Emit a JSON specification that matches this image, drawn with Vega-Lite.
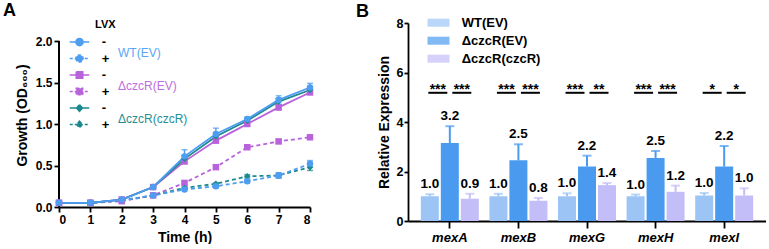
{
  "$schema": "https://vega.github.io/schema/vega-lite/v6.json",
  "padding": {"left": 3, "top": 1, "right": 0, "bottom": 0},
  "spacing": 42,
  "config": {
    "font": "Liberation Sans",
    "view": {"stroke": null},
    "axis": {"domainColor": "black", "tickColor": "black", "labelColor": "black", "titleColor": "black", "domainWidth": 1.8, "tickWidth": 1.8, "labelFontWeight": "bold", "titleFontWeight": "bold", "grid": false, "labelFont": "Liberation Sans", "titleFont": "Liberation Sans"},
    "legend": {"labelFont": "Liberation Sans", "titleFont": "Liberation Sans"},
    "title": {"fontSize": 18, "fontWeight": "bold", "anchor": "start", "frame": "group", "color": "black", "font": "Liberation Sans"}
  },
  "resolve": {"scale": {"color": "independent", "shape": "independent", "strokeDash": "independent", "xOffset": "independent"}, "legend": {"color": "independent", "shape": "independent"}},
  "hconcat": [
    {
      "width": 251,
      "height": 184,
      "title": {"text": "A", "dx": -56, "offset": -1},
      "data": {"values": [
        {"t": 0, "series": "ΔczcR(EV) +", "strain": "ΔczcR(EV)", "lvx": "+", "v": 0.05, "e": 0.01},
        {"t": 1, "series": "ΔczcR(EV) +", "strain": "ΔczcR(EV)", "lvx": "+", "v": 0.05, "e": 0.01},
        {"t": 2, "series": "ΔczcR(EV) +", "strain": "ΔczcR(EV)", "lvx": "+", "v": 0.07, "e": 0.01},
        {"t": 3, "series": "ΔczcR(EV) +", "strain": "ΔczcR(EV)", "lvx": "+", "v": 0.14, "e": 0.01},
        {"t": 4, "series": "ΔczcR(EV) +", "strain": "ΔczcR(EV)", "lvx": "+", "v": 0.29, "e": 0.02},
        {"t": 5, "series": "ΔczcR(EV) +", "strain": "ΔczcR(EV)", "lvx": "+", "v": 0.48, "e": 0.02},
        {"t": 6, "series": "ΔczcR(EV) +", "strain": "ΔczcR(EV)", "lvx": "+", "v": 0.72, "e": 0.02},
        {"t": 7, "series": "ΔczcR(EV) +", "strain": "ΔczcR(EV)", "lvx": "+", "v": 0.79, "e": 0.02},
        {"t": 8, "series": "ΔczcR(EV) +", "strain": "ΔczcR(EV)", "lvx": "+", "v": 0.84, "e": 0.02},
        {"t": 0, "series": "ΔczcR(czcR) +", "strain": "ΔczcR(czcR)", "lvx": "+", "v": 0.05, "e": 0.01},
        {"t": 1, "series": "ΔczcR(czcR) +", "strain": "ΔczcR(czcR)", "lvx": "+", "v": 0.05, "e": 0.01},
        {"t": 2, "series": "ΔczcR(czcR) +", "strain": "ΔczcR(czcR)", "lvx": "+", "v": 0.08, "e": 0.01},
        {"t": 3, "series": "ΔczcR(czcR) +", "strain": "ΔczcR(czcR)", "lvx": "+", "v": 0.14, "e": 0.01},
        {"t": 4, "series": "ΔczcR(czcR) +", "strain": "ΔczcR(czcR)", "lvx": "+", "v": 0.23, "e": 0.01},
        {"t": 5, "series": "ΔczcR(czcR) +", "strain": "ΔczcR(czcR)", "lvx": "+", "v": 0.28, "e": 0.01},
        {"t": 6, "series": "ΔczcR(czcR) +", "strain": "ΔczcR(czcR)", "lvx": "+", "v": 0.37, "e": 0.02},
        {"t": 7, "series": "ΔczcR(czcR) +", "strain": "ΔczcR(czcR)", "lvx": "+", "v": 0.38, "e": 0.03},
        {"t": 8, "series": "ΔczcR(czcR) +", "strain": "ΔczcR(czcR)", "lvx": "+", "v": 0.48, "e": 0.04},
        {"t": 0, "series": "WT(EV) +", "strain": "WT(EV)", "lvx": "+", "v": 0.05, "e": 0.01},
        {"t": 1, "series": "WT(EV) +", "strain": "WT(EV)", "lvx": "+", "v": 0.05, "e": 0.01},
        {"t": 2, "series": "WT(EV) +", "strain": "WT(EV)", "lvx": "+", "v": 0.08, "e": 0.01},
        {"t": 3, "series": "WT(EV) +", "strain": "WT(EV)", "lvx": "+", "v": 0.14, "e": 0.01},
        {"t": 4, "series": "WT(EV) +", "strain": "WT(EV)", "lvx": "+", "v": 0.21, "e": 0.01},
        {"t": 5, "series": "WT(EV) +", "strain": "WT(EV)", "lvx": "+", "v": 0.25, "e": 0.02},
        {"t": 6, "series": "WT(EV) +", "strain": "WT(EV)", "lvx": "+", "v": 0.31, "e": 0.02},
        {"t": 7, "series": "WT(EV) +", "strain": "WT(EV)", "lvx": "+", "v": 0.38, "e": 0.03},
        {"t": 8, "series": "WT(EV) +", "strain": "WT(EV)", "lvx": "+", "v": 0.52, "e": 0.04},
        {"t": 0, "series": "ΔczcR(EV) -", "strain": "ΔczcR(EV)", "lvx": "-", "v": 0.05, "e": 0.01},
        {"t": 1, "series": "ΔczcR(EV) -", "strain": "ΔczcR(EV)", "lvx": "-", "v": 0.05, "e": 0.01},
        {"t": 2, "series": "ΔczcR(EV) -", "strain": "ΔczcR(EV)", "lvx": "-", "v": 0.09, "e": 0.01},
        {"t": 3, "series": "ΔczcR(EV) -", "strain": "ΔczcR(EV)", "lvx": "-", "v": 0.24, "e": 0.01},
        {"t": 4, "series": "ΔczcR(EV) -", "strain": "ΔczcR(EV)", "lvx": "-", "v": 0.55, "e": 0.03},
        {"t": 5, "series": "ΔczcR(EV) -", "strain": "ΔczcR(EV)", "lvx": "-", "v": 0.80, "e": 0.03},
        {"t": 6, "series": "ΔczcR(EV) -", "strain": "ΔczcR(EV)", "lvx": "-", "v": 1.00, "e": 0.02},
        {"t": 7, "series": "ΔczcR(EV) -", "strain": "ΔczcR(EV)", "lvx": "-", "v": 1.20, "e": 0.03},
        {"t": 8, "series": "ΔczcR(EV) -", "strain": "ΔczcR(EV)", "lvx": "-", "v": 1.38, "e": 0.02},
        {"t": 0, "series": "ΔczcR(czcR) -", "strain": "ΔczcR(czcR)", "lvx": "-", "v": 0.05, "e": 0.01},
        {"t": 1, "series": "ΔczcR(czcR) -", "strain": "ΔczcR(czcR)", "lvx": "-", "v": 0.05, "e": 0.01},
        {"t": 2, "series": "ΔczcR(czcR) -", "strain": "ΔczcR(czcR)", "lvx": "-", "v": 0.09, "e": 0.01},
        {"t": 3, "series": "ΔczcR(czcR) -", "strain": "ΔczcR(czcR)", "lvx": "-", "v": 0.24, "e": 0.01},
        {"t": 4, "series": "ΔczcR(czcR) -", "strain": "ΔczcR(czcR)", "lvx": "-", "v": 0.58, "e": 0.04},
        {"t": 5, "series": "ΔczcR(czcR) -", "strain": "ΔczcR(czcR)", "lvx": "-", "v": 0.85, "e": 0.04},
        {"t": 6, "series": "ΔczcR(czcR) -", "strain": "ΔczcR(czcR)", "lvx": "-", "v": 1.04, "e": 0.02},
        {"t": 7, "series": "ΔczcR(czcR) -", "strain": "ΔczcR(czcR)", "lvx": "-", "v": 1.27, "e": 0.04},
        {"t": 8, "series": "ΔczcR(czcR) -", "strain": "ΔczcR(czcR)", "lvx": "-", "v": 1.41, "e": 0.03},
        {"t": 0, "series": "WT(EV) -", "strain": "WT(EV)", "lvx": "-", "v": 0.05, "e": 0.01},
        {"t": 1, "series": "WT(EV) -", "strain": "WT(EV)", "lvx": "-", "v": 0.05, "e": 0.01},
        {"t": 2, "series": "WT(EV) -", "strain": "WT(EV)", "lvx": "-", "v": 0.09, "e": 0.01},
        {"t": 3, "series": "WT(EV) -", "strain": "WT(EV)", "lvx": "-", "v": 0.24, "e": 0.02},
        {"t": 4, "series": "WT(EV) -", "strain": "WT(EV)", "lvx": "-", "v": 0.61, "e": 0.08},
        {"t": 5, "series": "WT(EV) -", "strain": "WT(EV)", "lvx": "-", "v": 0.88, "e": 0.07},
        {"t": 6, "series": "WT(EV) -", "strain": "WT(EV)", "lvx": "-", "v": 1.06, "e": 0.02},
        {"t": 7, "series": "WT(EV) -", "strain": "WT(EV)", "lvx": "-", "v": 1.29, "e": 0.05},
        {"t": 8, "series": "WT(EV) -", "strain": "WT(EV)", "lvx": "-", "v": 1.44, "e": 0.05}
      ]},
      "encoding": {
        "x": {"field": "t", "type": "quantitative", "scale": {"domain": [0, 8], "nice": false},
          "axis": {"values": [0, 1, 2, 3, 4, 5, 6, 7, 8], "format": "d", "title": "Time (h)", "labelFontSize": 12, "titleFontSize": 14, "tickSize": 5, "labelPadding": 2, "titlePadding": 5}},
        "y": {"field": "v", "type": "quantitative", "scale": {"domain": [0, 2.2169], "nice": false, "zero": true},
          "axis": {"values": [0, 0.5, 1, 1.5, 2], "format": ".1f", "domain": false, "title": "Growth (OD₆₀₀)", "labelFontSize": 12, "titleFontSize": 14, "tickSize": 5, "labelPadding": 2, "titlePadding": 6}},
        "color": {"field": "series", "type": "nominal",
          "scale": {"domain": ["WT(EV) -", "WT(EV) +", "ΔczcR(EV) -", "ΔczcR(EV) +", "ΔczcR(czcR) -", "ΔczcR(czcR) +"],
                    "range": ["#4d9df0", "#4d9df0", "#b862dc", "#b862dc", "#1b898d", "#1b898d"]},
          "legend": {
            "title": "LVX", "orient": "none", "legendX": 13, "legendY": -4.5, "padding": 0,
            "labelExpr": "slice(datum.label, -1)",
            "symbolSize": 169, "symbolStrokeWidth": 1.6, "labelOffset": 14.75, "rowPadding": 1.5,
            "titleFontSize": 11, "titleFontWeight": "bold", "titlePadding": 5, "titleColor": "black", "labelColor": "black", "labelFontSize": 13, "labelFontWeight": "bold",
            "encode": {
              "title": {"update": {"dx": {"value": 23}}},
              "symbols": {"update": {
                "shape": {"signal": "indexof(datum.value,'WT')==0 ? 'M-1.5,0H1.5M-0.55,0A0.55,0.55 0 1,0 0.55,0A0.55,0.55 0 1,0 -0.55,0Z' : indexof(datum.value,'(EV)')>=0 ? 'M-1.5,0H1.5M-0.5,-0.5H0.5V0.5H-0.5Z' : 'M-1.5,0H1.5M0,-0.5L0.45,0L0,0.5L-0.45,0Z'"},
                "strokeDash": {"signal": "indexof(datum.value,'+')>=0 ? [3,2] : [100,0]"},
                "fill": {"signal": "indexof(datum.value,'WT')==0 ? '#4d9df0' : indexof(datum.value,'(EV)')>=0 ? '#b862dc' : '#1b898d'"},
                "stroke": {"signal": "indexof(datum.value,'WT')==0 ? '#4d9df0' : indexof(datum.value,'(EV)')>=0 ? '#b862dc' : '#1b898d'"},
                "opacity": {"value": 1},
                "fillOpacity": {"value": 1}
              }}
            }
          }
        }
      },
      "layer": [
        {
          "mark": {"type": "rule", "strokeWidth": 1.8},
          "encoding": {"x": {"datum": 0, "type": "quantitative"}, "y": {"datum": 0, "type": "quantitative"}, "y2": {"datum": 2}, "color": {"value": "black"}}
        },
        {
          "mark": {"type": "errorbar", "ticks": {"size": 6, "thickness": 1.5}, "thickness": 1.5},
          "encoding": {"yError": {"field": "e"}}
        },
        {
          "mark": {"type": "line", "strokeWidth": 1.8},
          "encoding": {
            "strokeDash": {"field": "lvx", "type": "nominal", "scale": {"domain": ["-", "+"], "range": [[100, 0], [4, 3]]}, "legend": null}
          }
        },
        {
          "mark": {"type": "point", "filled": true, "opacity": 1, "size": 42},
          "encoding": {
            "shape": {"field": "strain", "type": "nominal",
              "scale": {"domain": ["WT(EV)", "ΔczcR(EV)", "ΔczcR(czcR)"], "range": ["circle", "square", "diamond"]},
              "legend": {
                "title": null, "orient": "none", "legendX": 47, "legendY": 23.6, "padding": 0,
                "symbolSize": 0, "symbolOpacity": 0, "symbolStrokeWidth": 0, "labelOffset": 0, "rowPadding": 21,
                "labelFontSize": 12, "labelFontWeight": "normal",
                "labelColor": {"expr": "indexof(datum.value,'WT')==0 ? '#5aa6f5' : indexof(datum.value,'(EV)')>=0 ? '#c06ee0' : '#1f8f95'"}
              }
            }
          }
        }
      ]
    },
    {
      "width": 358,
      "height": 198,
      "title": {"text": "B", "dx": -52, "offset": -5},
      "data": {"values": [
        {"kind": "bar", "gene": "mexA", "strain": "WT(EV)", "v": 1.0, "hi": 1.08, "label": "1.0"},
        {"kind": "bar", "gene": "mexA", "strain": "ΔczcR(EV)", "v": 3.15, "hi": 3.83, "label": "3.2"},
        {"kind": "bar", "gene": "mexA", "strain": "ΔczcR(czcR)", "v": 0.9, "hi": 1.1, "label": "0.9"},
        {"kind": "bar", "gene": "mexB", "strain": "WT(EV)", "v": 1.0, "hi": 1.1, "label": "1.0"},
        {"kind": "bar", "gene": "mexB", "strain": "ΔczcR(EV)", "v": 2.45, "hi": 3.1, "label": "2.5"},
        {"kind": "bar", "gene": "mexB", "strain": "ΔczcR(czcR)", "v": 0.82, "hi": 0.93, "label": "0.8"},
        {"kind": "bar", "gene": "mexG", "strain": "WT(EV)", "v": 1.0, "hi": 1.12, "label": "1.0"},
        {"kind": "bar", "gene": "mexG", "strain": "ΔczcR(EV)", "v": 2.2, "hi": 2.64, "label": "2.2"},
        {"kind": "bar", "gene": "mexG", "strain": "ΔczcR(czcR)", "v": 1.45, "hi": 1.53, "label": "1.4"},
        {"kind": "bar", "gene": "mexH", "strain": "WT(EV)", "v": 1.0, "hi": 1.07, "label": "1.0"},
        {"kind": "bar", "gene": "mexH", "strain": "ΔczcR(EV)", "v": 2.55, "hi": 2.83, "label": "2.5"},
        {"kind": "bar", "gene": "mexH", "strain": "ΔczcR(czcR)", "v": 1.18, "hi": 1.43, "label": "1.2"},
        {"kind": "bar", "gene": "mexI", "strain": "WT(EV)", "v": 1.03, "hi": 1.13, "label": "1.0"},
        {"kind": "bar", "gene": "mexI", "strain": "ΔczcR(EV)", "v": 2.2, "hi": 3.03, "label": "2.2"},
        {"kind": "bar", "gene": "mexI", "strain": "ΔczcR(czcR)", "v": 1.03, "hi": 1.32, "label": "1.0"},
        {"kind": "sigL", "gene": "mexA", "lvl": 5.18, "s": "***"}, {"kind": "sigR", "gene": "mexA", "lvl": 5.18, "s": "***"},
        {"kind": "sigL", "gene": "mexB", "lvl": 5.18, "s": "***"}, {"kind": "sigR", "gene": "mexB", "lvl": 5.18, "s": "***"},
        {"kind": "sigL", "gene": "mexG", "lvl": 5.18, "s": "***"}, {"kind": "sigR", "gene": "mexG", "lvl": 5.18, "s": "**"},
        {"kind": "sigL", "gene": "mexH", "lvl": 5.18, "s": "***"}, {"kind": "sigR", "gene": "mexH", "lvl": 5.18, "s": "***"},
        {"kind": "sigL", "gene": "mexI", "lvl": 5.18, "s": "*"}, {"kind": "sigR", "gene": "mexI", "lvl": 5.18, "s": "*"}
      ]},
      "encoding": {
        "x": {"field": "gene", "type": "nominal", "sort": ["mexA", "mexB", "mexG", "mexH", "mexI"],
          "scale": {"paddingInner": 0.1545, "paddingOuter": 0.187},
          "axis": {"title": null, "labelAngle": 0, "labelFontStyle": "italic", "labelFontSize": 13, "tickSize": 7, "labelPadding": 3}},
        "y": {"field": "v", "type": "quantitative", "scale": {"domain": [0, 8], "nice": false},
          "axis": {"values": [0, 2, 4, 6, 8], "title": "Relative Expression", "labelFontSize": 12.5, "titleFontSize": 14, "tickSize": 4, "labelPadding": 1, "titlePadding": 5}}
      },
      "layer": [
        {
          "transform": [{"filter": "datum.kind == 'bar'"}],
          "layer": [
            {
              "mark": {"type": "bar"},
              "encoding": {
                "xOffset": {"field": "strain", "type": "nominal", "sort": ["WT(EV)", "ΔczcR(EV)", "ΔczcR(czcR)"], "scale": {"type": "band", "paddingInner": 0.1, "paddingOuter": 0}},
                "color": {"field": "strain", "type": "nominal",
                  "scale": {"domain": ["WT(EV)", "ΔczcR(EV)", "ΔczcR(czcR)"], "range": ["#9cc5f5", "#4a9bf0", "#c3bef8"]},
                  "legend": {"title": null, "orient": "none", "legendX": 24, "legendY": -6.8, "padding": 0,
                    "symbolType": "M-1.83,-0.67H1.83V0.67H-1.83Z", "symbolSize": 144, "symbolStrokeWidth": 0, "symbolOpacity": 1,
                    "labelOffset": 16.7, "rowPadding": 4, "labelFontSize": 13, "labelFontWeight": "bold", "labelColor": "black"}}
              }
            },
            {
              "mark": {"type": "rule", "strokeWidth": 2},
              "encoding": {
                "xOffset": {"field": "strain", "type": "nominal", "sort": ["WT(EV)", "ΔczcR(EV)", "ΔczcR(czcR)"], "scale": {"type": "band", "paddingInner": 0.1, "paddingOuter": 0}},
                "y2": {"field": "hi"},
                "color": {"field": "strain", "type": "nominal"}
              }
            },
            {
              "mark": {"type": "tick", "size": 9, "thickness": 2},
              "encoding": {
                "xOffset": {"field": "strain", "type": "nominal", "sort": ["WT(EV)", "ΔczcR(EV)", "ΔczcR(czcR)"], "scale": {"type": "band", "paddingInner": 0.1, "paddingOuter": 0}},
                "y": {"field": "hi", "type": "quantitative"},
                "color": {"field": "strain", "type": "nominal"}
              }
            },
            {
              "mark": {"type": "text", "baseline": "bottom", "dy": -3, "fontSize": 13.5, "fontWeight": "bold", "color": "black"},
              "encoding": {
                "xOffset": {"field": "strain", "type": "nominal", "sort": ["WT(EV)", "ΔczcR(EV)", "ΔczcR(czcR)"], "scale": {"type": "band", "paddingInner": 0.1, "paddingOuter": 0}},
                "y": {"field": "hi", "type": "quantitative"},
                "text": {"field": "label"}
              }
            }
          ]
        },
        {
          "transform": [{"filter": "datum.kind == 'sigL'"}],
          "mark": {"type": "rect", "width": 19, "height": 2, "color": "black", "xOffset": -12},
          "encoding": {"y": {"field": "lvl", "type": "quantitative"}}
        },
        {
          "transform": [{"filter": "datum.kind == 'sigR'"}],
          "mark": {"type": "rect", "width": 19, "height": 2, "color": "black", "xOffset": 12},
          "encoding": {"y": {"field": "lvl", "type": "quantitative"}}
        },
        {
          "transform": [{"filter": "datum.kind == 'sigL'"}],
          "mark": {"type": "text", "baseline": "alphabetic", "dy": 1, "fontSize": 14, "fontWeight": "bold", "color": "black", "xOffset": -12},
          "encoding": {"y": {"field": "lvl", "type": "quantitative"}, "text": {"field": "s"}}
        },
        {
          "transform": [{"filter": "datum.kind == 'sigR'"}],
          "mark": {"type": "text", "baseline": "alphabetic", "dy": 1, "fontSize": 14, "fontWeight": "bold", "color": "black", "xOffset": 12},
          "encoding": {"y": {"field": "lvl", "type": "quantitative"}, "text": {"field": "s"}}
        }
      ],
      "resolve": {"scale": {"xOffset": "independent"}}
    }
  ]
}
